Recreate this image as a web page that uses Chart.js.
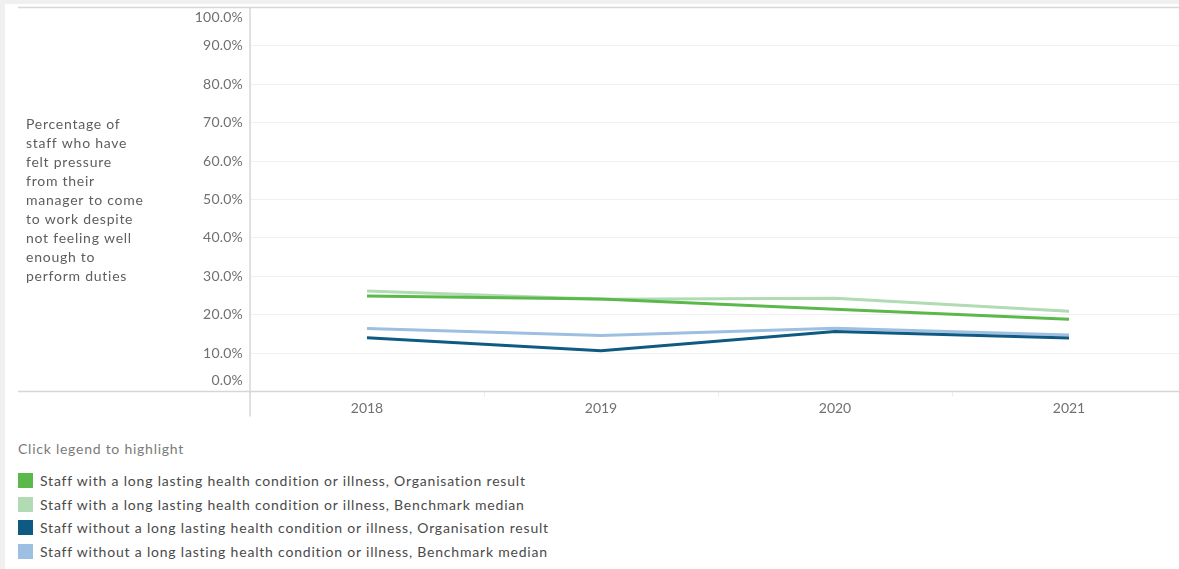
<!DOCTYPE html>
<html>
<head>
<meta charset="utf-8">
<script src="https://cdn.jsdelivr.net/npm/chart.js@4.4.1/dist/chart.umd.min.js"></script>
<style>
  html, body { margin: 0; padding: 0; background: #f0f0f0; overflow: hidden; width: 1179px; height: 569px; }
  #panel { position: absolute; left: 5px; top: 4px; width: 1174px; height: 565px; background: #fff; }
  #chart { position: absolute; left: 0; top: 0; }
  #legend { position: absolute; left: 18px; top: 440px; font-family: Lato, sans-serif; font-size: 14px; }
  #legend .hint { color: #7a7a7a; height: 18px; line-height: 18px; margin-bottom: 11px; letter-spacing: 0.75px; }
  #legend .item { display: flex; align-items: center; height: 23.5px; color: #4a4a4a; letter-spacing: 0.8px; }
  #legend .swatch { width: 15px; height: 15px; margin-right: 7px; }
</style>
</head>
<body>
<div id="panel"></div>
<canvas id="chart" width="1195" height="425"></canvas>
<div id="legend"><div class="hint">Click legend to highlight</div></div>
<script>
const years = ["2018", "2019", "2020", "2021"];

const withOrg = [24.9, 24.1, 21.4, 18.8];
const withBench = [26.2, 24.0, 24.3, 20.9];
const withoutOrg = [14.0, 10.6, 15.6, 13.9];
const withoutBench = [16.4, 14.6, 16.5, 14.7];

const seriesNames = [
  "Staff with a long lasting health condition or illness, Organisation result",
  "Staff with a long lasting health condition or illness, Benchmark median",
  "Staff without a long lasting health condition or illness, Organisation result",
  "Staff without a long lasting health condition or illness, Benchmark median"
];
const seriesColors = ["#5bb84a", "#b0dbb3", "#0f5a82", "#9dbfe1"];

const yTicks = [0, 10, 20, 30, 40, 50, 60, 70, 80, 90, 100];

const yTitle = [
  "Percentage of", "staff who have", "felt pressure", "from their",
  "manager to come", "to work despite", "not feeling well", "enough to",
  "perform duties"
];

const FONT = "Lato, sans-serif";

// frame lines, y labels kept inside the pane, and the wrapped axis title
const frame = {
  id: "frame",
  beforeDatasetsDraw(chart) {
    const { ctx, chartArea: a } = chart;
    ctx.save();
    ctx.strokeStyle = "#d6d6d6";
    ctx.lineWidth = 1.5;
    ctx.beginPath();
    ctx.moveTo(18, a.top); ctx.lineTo(chart.width, a.top);
    ctx.moveTo(18, a.bottom); ctx.lineTo(chart.width, a.bottom);
    ctx.moveTo(a.left, a.top); ctx.lineTo(a.left, a.bottom + 25);
    ctx.stroke();
    ctx.restore();
  },
  afterDraw(chart) {
    const { ctx, chartArea: a } = chart;
    const y = chart.scales.y;
    ctx.save();
    ctx.font = "14px " + FONT;
    ctx.fillStyle = "#707070";
    ctx.textAlign = "right";
    ctx.textBaseline = "middle";
    ctx.letterSpacing = "0.2px";
    yTicks.forEach(v => {
      let py = y.getPixelForValue(v);
      py = Math.min(Math.max(py, a.top + 10), a.bottom - 11);
      ctx.fillText(v.toFixed(1) + "%", a.left - 7, py);
    });
    ctx.fillStyle = "#5e5e5e";
    ctx.textAlign = "left";
    ctx.letterSpacing = "0.75px";
    yTitle.forEach((line, i) => ctx.fillText(line, 26, 124 + i * 19.1));
    ctx.restore();
  }
};

new Chart(document.getElementById("chart"), {
  type: "line",
  data: {
    labels: years,
    datasets: [withOrg, withBench, withoutOrg, withoutBench].map((d, i) => ({
      label: seriesNames[i],
      data: d,
      borderColor: seriesColors[i],
      backgroundColor: seriesColors[i],
      borderWidth: 3,
      pointRadius: 0,
      tension: 0
    }))
  },
  options: {
    responsive: false,
    animation: false,
    devicePixelRatio: 1,
    layout: { padding: { top: 7.5, right: 9, left: 0, bottom: 0 } },
    plugins: { legend: { display: false }, tooltip: { enabled: false } },
    scales: {
      x: {
        offset: true,
        grid: { offset: true, drawOnChartArea: false, drawTicks: true, tickLength: 5, color: "#ececec" },
        border: { display: false },
        ticks: { font: { family: FONT, size: 14 }, color: "#707070", padding: 4 },
        afterFit(s) { s.height = 33.5; }
      },
      y: {
        min: 0,
        max: 100,
        ticks: { display: false, stepSize: 10 },
        grid: { color: "#f0f0f0", drawTicks: false },
        border: { display: false },
        afterFit(s) { s.width = 250; }
      }
    }
  },
  plugins: [frame]
});

// legend swatches from the same series lists
const legend = document.getElementById("legend");
seriesNames.forEach((name, i) => {
  const row = document.createElement("div");
  row.className = "item";
  row.innerHTML = '<span class="swatch" style="background:' + seriesColors[i] + '"></span>' + name;
  legend.appendChild(row);
});
</script>
</body>
</html>
